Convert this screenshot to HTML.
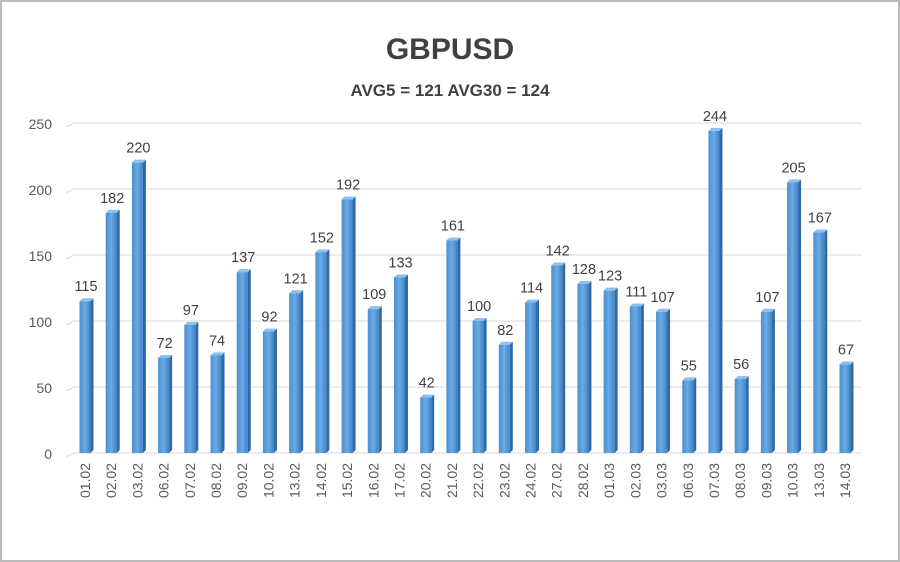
<!DOCTYPE html>
<html><head><meta charset="utf-8"><style>
body{margin:0;background:#fff}
#wrap{width:900px;height:562px;position:relative;overflow:hidden}
svg{font-family:"Liberation Sans",sans-serif}
</style></head><body>
<div id="wrap">
<svg id="chart" width="900" height="562">
<defs>
<linearGradient id="g" x1="0" x2="1" y1="0" y2="0">
<stop offset="0" stop-color="#4a8fd0"/><stop offset="0.5" stop-color="#6aaae6"/><stop offset="1" stop-color="#3f82c4"/>
</linearGradient>
</defs>
<rect x="1" y="1" width="898" height="560" fill="#fff" stroke="#bbb" stroke-width="2"/>
<text x="450" y="59" text-anchor="middle" font-size="30" font-weight="bold" fill="#404040">GBPUSD</text>
<text x="450" y="96" text-anchor="middle" font-size="17" font-weight="bold" fill="#404040">AVG5 = 121 AVG30 = 124</text>
<g id="grid"></g><g id="bars"></g><g id="labels"></g>
</svg></div>
<script>
const categories=["01.02","02.02","03.02","06.02","07.02","08.02","09.02","10.02","13.02","14.02","15.02","16.02","17.02","20.02","21.02","22.02","23.02","24.02","27.02","28.02","01.03","02.03","03.03","06.03","07.03","08.03","09.03","10.03","13.03","14.03"];
const values=[115,182,220,72,97,74,137,92,121,152,192,109,133,42,161,100,82,114,142,128,123,111,107,55,244,56,107,205,167,67];
const yTicks=[0,50,100,150,200,250];
</script>
<script>
const svg=document.getElementById('chart');
const NS='http://www.w3.org/2000/svg';
const n=values.length;
const y0=453,ppu=1.32;
const yS=v=>y0-v*ppu;
const x0=85,x1=845;
const xS=i=>x0+i*(x1-x0)/(n-1);
function mk(t,a,p){const e=document.createElementNS(NS,t);for(const k in a)e.setAttribute(k,a[k]);p.appendChild(e);return e;}
const grid=document.getElementById('grid'),bars=document.getElementById('bars'),labels=document.getElementById('labels');
yTicks.forEach(t=>{
 const y=yS(t);
 const l=mk('polyline',{points:`${66},${y+4} ${74},${y} ${862},${y}`,fill:'none',stroke:'#d9d9d9','stroke-width':1},grid);
 
 
 const tx=mk('text',{x:52,y:y+6,'text-anchor':'end','font-size':14,fill:'#595959'},grid);
 tx.textContent=t;
 
 
});
values.forEach((v,i)=>{
 const cx=xS(i),top=yS(v),w=11;
 const g=mk('g',{},bars);
 
 
 mk('polygon',{points:`${cx+w/2},${top} ${cx+w/2+3},${top-3} ${cx+w/2+3},${y0-3} ${cx+w/2},${y0}`,fill:'#2f6aa6'},g);
 mk('polygon',{points:`${cx-w/2},${top} ${cx-w/2+3},${top-3} ${cx+w/2+3},${top-3} ${cx+w/2},${top}`,fill:'#8cc0ef'},g);
 mk('rect',{x:cx-w/2,y:top,width:w,height:y0-top,fill:'url(#g)'},g);
 const vl=mk('text',{x:cx+1,y:top-10,'text-anchor':'middle','font-size':14.5,fill:'#404040'},labels);
 vl.textContent=v;
 
 
 const cl=mk('text',{x:0,y:0,'text-anchor':'end','font-size':14,fill:'#595959',transform:`translate(${cx+5},${y0+10}) rotate(-90)`},labels);
 cl.textContent=categories[i];
 
 
});
</script>
</body></html>
